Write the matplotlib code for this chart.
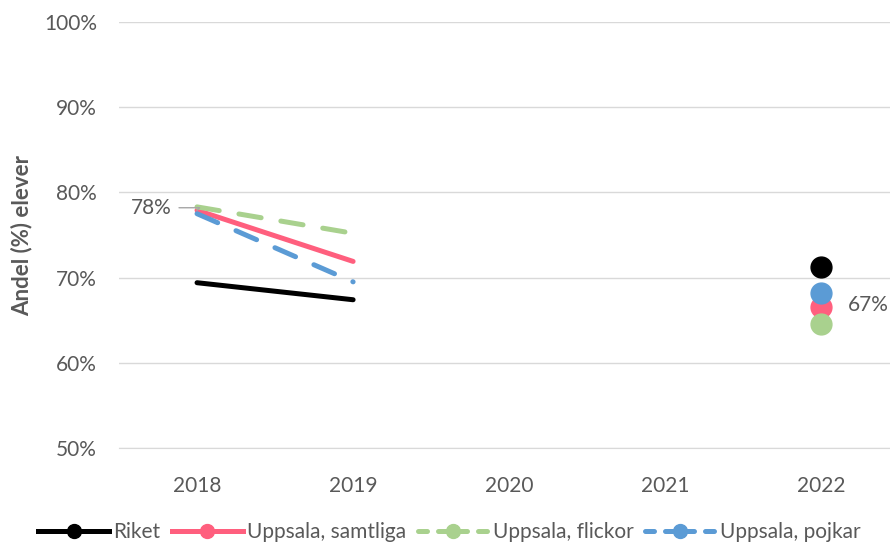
import matplotlib.pyplot as plt
from matplotlib.lines import Line2D

plt.rcParams['font.family'] = ['Lato', 'DejaVu Sans']

years = ['2018', '2019', '2020', '2021', '2022']
x_pos = list(range(len(years)))

# values in %, 2018-2019 as lines, 2022 as a single point
riket = [69.4, 67.4]
samtliga = [77.9, 71.9]
flickor = [78.3, 75.2]
pojkar = [77.5, 69.5]
riket_22 = 71.3
samtliga_22 = 66.6
flickor_22 = 64.5
pojkar_22 = 68.2

TXT = '#595959'
GRID = '#D9D9D9'
series = [
    ('Riket', riket, riket_22, '#000000', '-'),
    ('Uppsala, samtliga', samtliga, samtliga_22, '#FF5F7E', '-'),
    ('Uppsala, flickor', flickor, flickor_22, '#A9D18E', (0, (4.5, 4))),
    ('Uppsala, pojkar', pojkar, pojkar_22, '#5B9BD5', (0, (4.5, 4))),
]

fig = plt.figure(figsize=(8.9, 5.42), dpi=100)
ax = fig.add_axes([119 / 890, 94 / 542, 1 - 119 / 890, 426 / 542])

handles = []
for name, vals, v22, col, ls in series:
    ax.plot(x_pos[:2], vals, color=col, lw=3.6, ls=ls, solid_capstyle='round',
            dash_capstyle='round', zorder=3)
    ax.plot([x_pos[4]], [v22], 'o', color=col, ms=15, zorder=4)
    handles.append(Line2D([], [], color=col, lw=3.6,
                          ls=(0, (1.8, 2.2)) if ls != '-' else '-',
                          marker='o', ms=10, dash_capstyle='round'))

# data labels
ax.annotate('78%', xy=(x_pos[0], samtliga[0]), xytext=(-0.16, 78.2),
            fontsize=15, color=TXT, ha='right', va='center',
            arrowprops=dict(arrowstyle='-', color='#A6A6A6', lw=1,
                            connectionstyle='angle,angleA=0,angleB=45,rad=0',
                            shrinkA=3, shrinkB=0))
ax.text(x_pos[4] + 0.17, samtliga_22 + 0.2, '67%', fontsize=15, color=TXT,
        ha='left', va='center')

ax.set_xlim(-0.5, 4.44)
ax.set_ylim(50, 100)
ax.set_yticks(range(50, 101, 10))
ax.set_yticklabels([f'{v}%' for v in range(50, 101, 10)])
ax.set_xticks(x_pos)
ax.set_xticklabels(years)
ax.grid(axis='y', color=GRID, lw=1)
ax.set_axisbelow(True)
for s in ('top', 'right', 'left'):
    ax.spines[s].set_visible(False)
ax.spines['bottom'].set_color(GRID)
ax.tick_params(axis='both', length=0, colors=TXT, labelsize=15)
ax.tick_params(axis='y', pad=16)
ax.tick_params(axis='x', pad=20)
ax.set_ylabel('Andel (%) elever', fontsize=16, fontweight='bold', color=TXT,
              labelpad=8)

fig.legend(handles, [s[0] for s in series], loc='lower center',
           bbox_to_anchor=(0.505, -0.035), ncol=4, frameon=False, fontsize=15,
           labelcolor=TXT, handlelength=3.4, handletextpad=0.2,
           columnspacing=0.55)

fig.savefig('out.png', dpi=100)
